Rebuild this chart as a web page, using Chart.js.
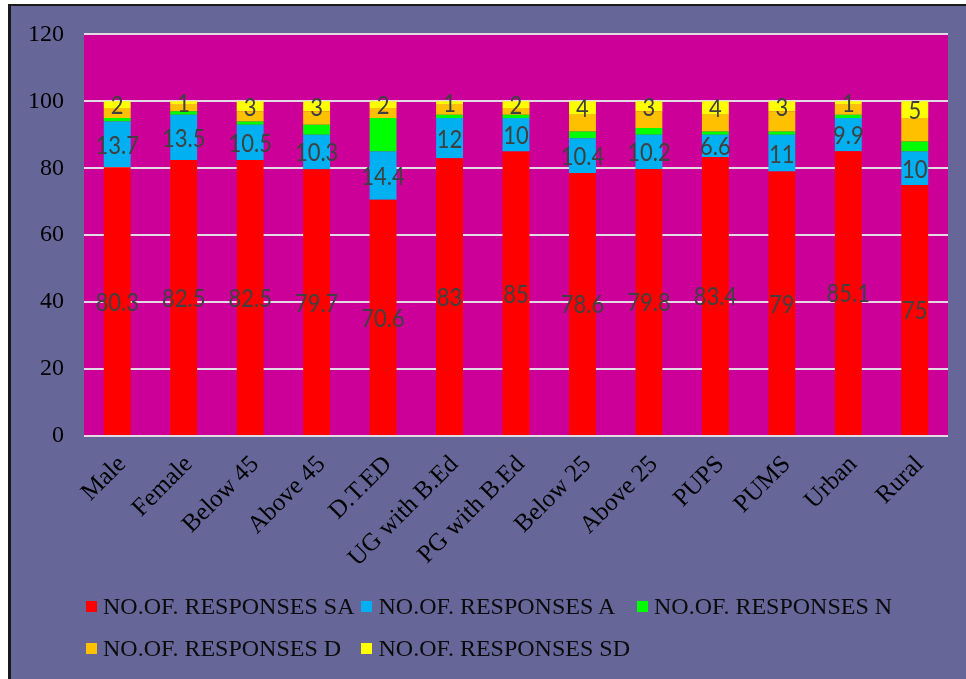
<!DOCTYPE html>
<html>
<head>
<meta charset="utf-8">
<script src="https://cdn.jsdelivr.net/npm/chart.js@4"></script>
<style>
  html, body { margin: 0; padding: 0; background: #ffffff; width: 966px; height: 679px; overflow: hidden; }
  #frame { position: absolute; left: 8px; top: 4px; right: 0; bottom: 0; background: #666699;
           border-left: 3px solid #1a1a1a; border-top: 2px solid #1a1a1a; }
  #chart { position: absolute; left: 0; top: 0; }
  #legend { position: absolute; left: 86px; top: 585px; display: grid;
            grid-template-columns: auto auto auto; column-gap: 7px;
            font: 24px "Liberation Serif", "Times New Roman", serif; color: #0a0a0a; }
  .item { display: flex; align-items: center; height: 42px; white-space: nowrap; }
  .box { width: 11px; height: 11px; margin-right: 6px; flex: none; }
</style>
</head>
<body>
<div id="frame"></div>
<canvas id="chart" width="966" height="679"></canvas>
<div id="legend"></div>
<script>
// Respondent groups along the x axis
const categories = ['Male', 'Female', 'Below 45', 'Above 45', 'D.T.ED', 'UG with B.Ed',
                    'PG with B.Ed', 'Below 25', 'Above 25', 'PUPS', 'PUMS', 'Urban', 'Rural'];

// Percentage of responses per answer, stacked to 100
const seriesNames = ['NO.OF. RESPONSES SA', 'NO.OF. RESPONSES A', 'NO.OF. RESPONSES N',
                     'NO.OF. RESPONSES D', 'NO.OF. RESPONSES SD'];
const responsesSA = [80.3, 82.5, 82.5, 79.7, 70.6, 83, 85, 78.6, 79.8, 83.4, 79, 85.1, 75];
const responsesA  = [13.7, 13.5, 10.5, 10.3, 14.4, 12, 10, 10.4, 10.2, 6.6, 11, 9.9, 10];
const responsesN  = [1, 1, 1, 3, 10, 1, 1, 2, 2, 1, 1, 1, 3];
const responsesD  = [3, 2, 3, 4, 3, 3, 2, 5, 5, 5, 6, 3, 7];
const responsesSD = [2, 1, 3, 3, 2, 1, 2, 4, 3, 4, 3, 1, 5];

// Value axis range
const yMin = 0, yMax = 120, yStep = 20;

// Series whose values are written on the bars
const labelledSeries = ['NO.OF. RESPONSES SA', 'NO.OF. RESPONSES A', 'NO.OF. RESPONSES SD'];

const seriesColors = ['#FF0000', '#00B0F0', '#00FF00', '#FFC000', '#FFFF00'];
const seriesValues = [responsesSA, responsesA, responsesN, responsesD, responsesSD];

// Magenta plot area behind the bars
const plotBackground = {
  id: 'plotBackground',
  beforeDraw(chart) {
    const { ctx, chartArea: a } = chart;
    ctx.save();
    ctx.fillStyle = '#CC0099';
    ctx.fillRect(a.left, a.top, a.right - a.left, a.bottom - a.top);
    ctx.restore();
  }
};

// Values centred inside their segments
const valueLabels = {
  id: 'valueLabels',
  afterDatasetsDraw(chart) {
    const ctx = chart.ctx;
    chart.data.datasets.forEach((ds, i) => {
      if (!labelledSeries.includes(ds.label)) return;
      const meta = chart.getDatasetMeta(i);
      meta.data.forEach((bar, j) => {
        const { x, y, base } = bar.getProps(['x', 'y', 'base'], true);
        ctx.save();
        ctx.translate(x, (y + base) / 2 + 1);
        ctx.scale(1, 1.18);
        ctx.font = '22px Lato';
        ctx.fillStyle = '#404040';
        ctx.textAlign = 'center';
        ctx.textBaseline = 'middle';
        ctx.fillText(String(ds.data[j]), 0, 0);
        ctx.restore();
      });
    });
  }
};

const serifFamily = '"Liberation Serif", "Times New Roman", serif';

const chart = new Chart(document.getElementById('chart'), {
  type: 'bar',
  data: {
    labels: categories,
    datasets: seriesNames.map((name, i) => ({
      label: name,
      data: seriesValues[i],
      backgroundColor: seriesColors[i],
      borderWidth: 0,
      barPercentage: 0.405,
      categoryPercentage: 1
    }))
  },
  options: {
    responsive: false,
    animation: false,
    layout: { padding: { left: 0, top: 34, right: 18, bottom: 0 } },
    plugins: { legend: { display: false }, tooltip: { enabled: false } },
    scales: {
      x: {
        stacked: true,
        grid: { display: false, drawTicks: false },
        border: { display: false },
        ticks: { minRotation: 45, maxRotation: 45, color: '#000',
                 font: { family: serifFamily, size: 25 }, padding: 14, labelOffset: 5 },
        afterFit(s) { s.height = 243; }
      },
      y: {
        stacked: true,
        min: yMin,
        max: yMax,
        grid: { color: '#E2DAE2', lineWidth: 2, drawTicks: false },
        border: { display: false },
        ticks: { stepSize: yStep, color: '#000', font: { family: serifFamily, size: 24 }, padding: 20 },
        afterFit(s) { s.width = 84; }
      }
    }
  },
  plugins: [plotBackground, valueLabels]
});

// Legend laid out in aligned columns below the chart
const legendEl = document.getElementById('legend');
chart.data.datasets.forEach(ds => {
  const item = document.createElement('div');
  item.className = 'item';
  const box = document.createElement('span');
  box.className = 'box';
  box.style.background = ds.backgroundColor;
  const text = document.createElement('span');
  text.textContent = ds.label;
  item.appendChild(box);
  item.appendChild(text);
  legendEl.appendChild(item);
});
</script>
</body>
</html>
